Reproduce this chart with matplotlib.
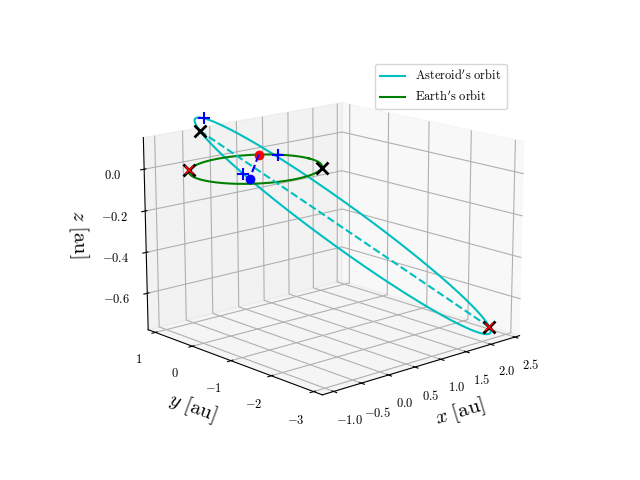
import numpy as np
import matplotlib
matplotlib.use("Agg")
import matplotlib.pyplot as plt
from matplotlib.ticker import FuncFormatter

plt.rcParams['mathtext.fontset'] = 'cm'
plt.rcParams['font.family'] = 'serif'
plt.rcParams['font.serif'] = ['DejaVu Serif']

# Data
aphelion = [2.15, -3.0, -0.72]
perihelion_dist = 0.9
minor_dir = [0.68, 0.7, -0.165]
earth_radius = 1.0
earth_pos_angle = 0.9      # rad, red dot
ast_pos_angle = 2.5        # rad (eccentric anomaly), blue dot
plus_angles_earth = [0.6]
plus_angles_ast = [2.56, 3.75]
earth_cross_left = 2.41
earth_cross_right = -0.73

A = np.array(aphelion)
Q = np.linalg.norm(A)
u = A / Q
P = -u * perihelion_dist
a = (Q + perihelion_dist) / 2
e = (Q - perihelion_dist) / (Q + perihelion_dist)
b = a * np.sqrt(1 - e**2)
v = np.array(minor_dir); v = v - v.dot(u) * u; v /= np.linalg.norm(v)
c = (A + P) / 2

def ast(E):
    E = np.atleast_1d(E)
    return c[:, None] + a * np.cos(E)[None] * u[:, None] + b * np.sin(E)[None] * v[:, None]

def earth(t):
    t = np.atleast_1d(t)
    return np.vstack([earth_radius * np.cos(t), earth_radius * np.sin(t), 0 * t])

fig = plt.figure(figsize=(6.4, 4.8), dpi=100)
ax = fig.add_subplot(projection='3d')
E = np.linspace(0, 2 * np.pi, 400)
ax.plot(*ast(E), color='c', label=r"$\mathrm{Asteroid's\ orbit}$")
ax.plot(*earth(E), color='g', label=r"$\mathrm{Earth's\ orbit}$")
ax.plot([P[0], A[0]], [P[1], A[1]], [P[2], A[2]], 'c--')

ep = earth(earth_pos_angle)
ax.plot(*ep, 'ro')
ap = ast(ast_pos_angle)
ax.plot(*ap, 'bo')
ax.plot([ep[0, 0], ap[0, 0]], [ep[1, 0], ap[1, 0]], [ep[2, 0], ap[2, 0]], 'b--')
for t in plus_angles_earth:
    ax.plot(*earth(t), 'b+', ms=8, mew=1.5)
for t in plus_angles_ast:
    ax.plot(*ast(t), 'b+', ms=8, mew=1.5)
ax.plot(*P, 'kx', ms=8, mew=2)
ax.plot(*A, 'kx', ms=8, mew=2)
ax.plot(*A, 'rx', ms=6, mew=1.2)
ax.plot(*earth(earth_cross_right), 'kx', ms=8, mew=2)
ax.plot(*earth(earth_cross_left), 'kx', ms=8, mew=2)
ax.plot(*earth(earth_cross_left), 'rx', ms=6, mew=1.2)

ax.set_xlim(-1.2, 2.6); ax.set_ylim(-3.2, 1.2); ax.set_zlim(-0.78, 0.15)
ax.set_xticks([-1.0, -0.5, 0.0, 0.5, 1.0, 1.5, 2.0, 2.5])
ax.xaxis.set_major_formatter(FuncFormatter(lambda x, p: r'$%.1f$' % x))
ax.set_yticks([-3, -2, -1, 0, 1])
ax.yaxis.set_major_formatter(FuncFormatter(lambda x, p: r'$%d$' % x))
ax.set_zticks([-0.6, -0.4, -0.2, 0.0])
ax.zaxis.set_major_formatter(FuncFormatter(lambda x, p: r'$%.1f$' % x))
ax.tick_params(labelsize=9)
ax.set_xlabel(r'$x\ \mathrm{[au]}$', fontsize=15)
ax.set_ylabel(r'$y\ \mathrm{[au]}$', fontsize=15)
ax.set_zlabel(r'$z\ \mathrm{[au]}$', fontsize=15)
ax.view_init(elev=15, azim=-132)
ax.set_box_aspect(None, zoom=1.12)
ax.legend(loc='upper right', fontsize=9)
fig.savefig('out.png')
